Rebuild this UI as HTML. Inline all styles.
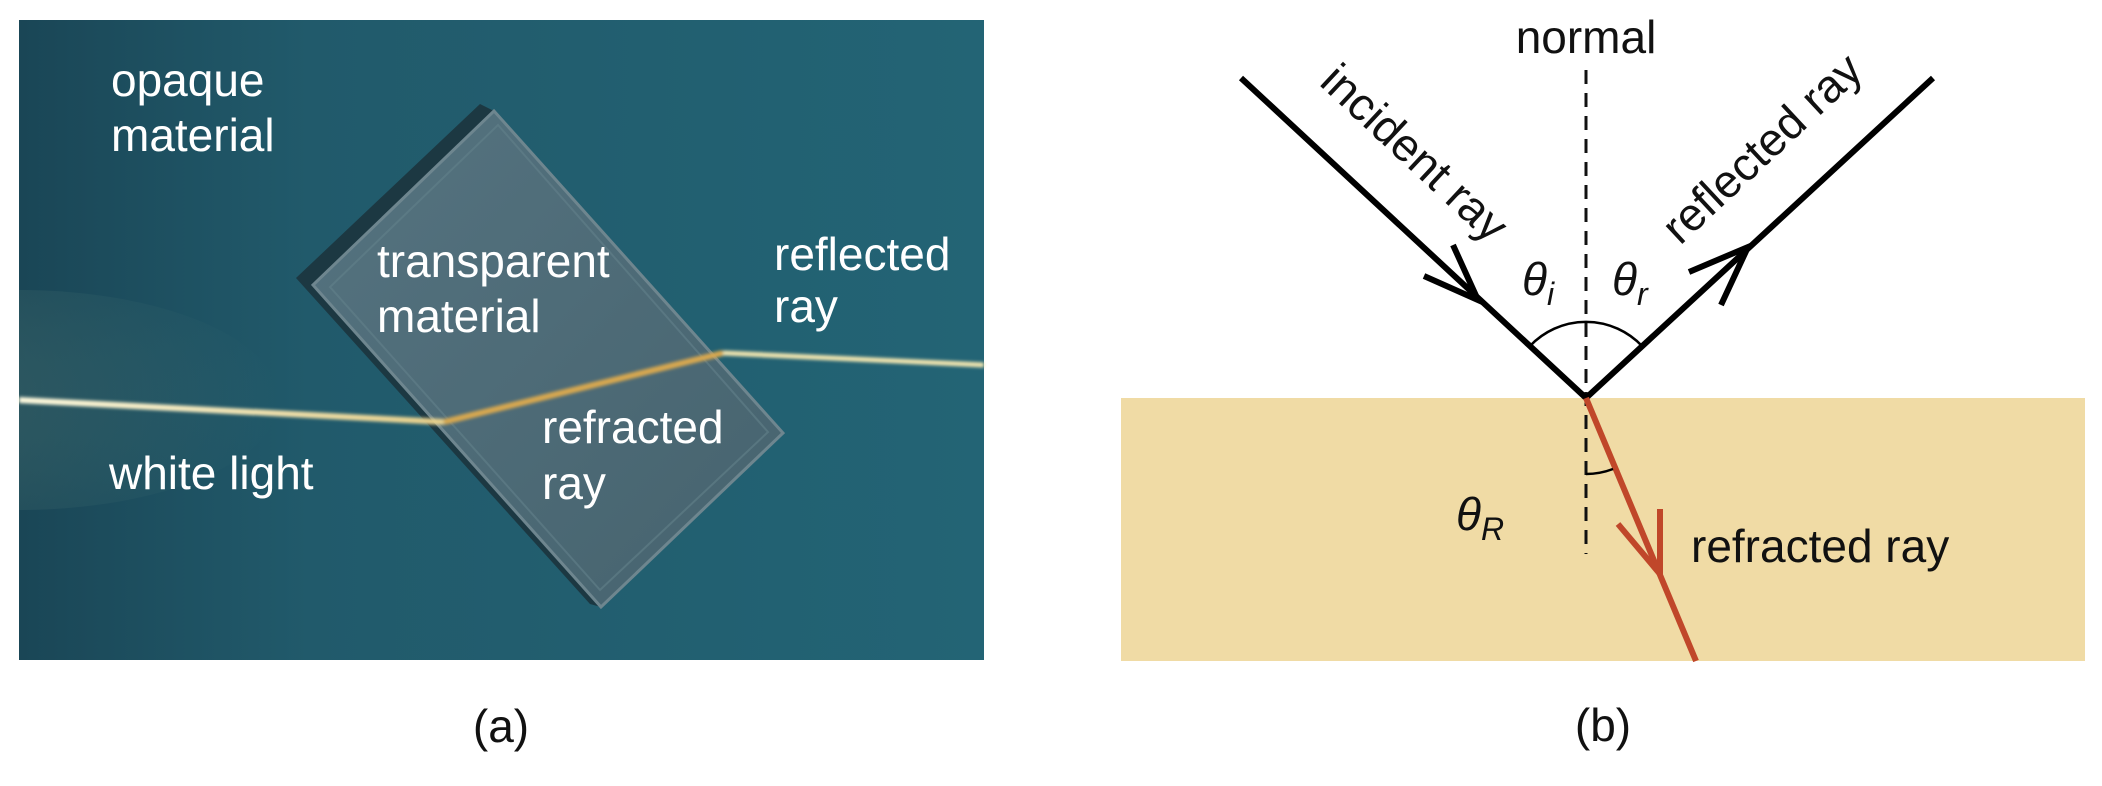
<!DOCTYPE html>
<html><head><meta charset="utf-8"><style>
html,body{margin:0;padding:0;background:#fff;}
svg{display:block;}
text{font-family:"Liberation Sans",sans-serif;}
</style></head><body>
<svg width="2102" height="786" viewBox="0 0 2102 786" xmlns="http://www.w3.org/2000/svg">
<defs>
<linearGradient id="bg" x1="0" y1="0" x2="1" y2="0">
<stop offset="0" stop-color="#1a4656"/><stop offset="0.3" stop-color="#215a6b"/><stop offset="1" stop-color="#236475"/>
</linearGradient>
<linearGradient id="slab" x1="0" y1="0" x2="1" y2="1">
<stop offset="0" stop-color="#557380"/><stop offset="1" stop-color="#46636e"/>
</linearGradient>
<linearGradient id="beam" x1="0" y1="0" x2="1" y2="0">
<stop offset="0" stop-color="#fffbe0"/><stop offset="1" stop-color="#e8d08a"/>
</linearGradient>
<radialGradient id="glow" cx="0" cy="0.5" r="1">
<stop offset="0" stop-color="#8fb59a" stop-opacity="0.3"/><stop offset="1" stop-color="#8fb59a" stop-opacity="0"/>
</radialGradient>
<clipPath id="photo"><rect x="19" y="20" width="965" height="640"/></clipPath>
<filter id="blur"><feGaussianBlur stdDeviation="1.5"/></filter>
</defs>
<rect x="19" y="20" width="965" height="640" fill="url(#bg)"/>
<ellipse cx="19" cy="400" rx="260" ry="110" fill="url(#glow)" clip-path="url(#photo)"/>
<polygon points="480,104 296,278 590,604 601,607 313,285 494,111" fill="#1c3842"/>
<polygon points="494,111 313,285 601,607 783,433" fill="url(#slab)" stroke="#6e868f" stroke-width="3"/>
<polygon points="498,125 330,287 600,590 768,432" fill="none" stroke="#62808b" stroke-width="2" opacity="0.6"/>
<g filter="url(#blur)">
<polyline points="19,400 444,422" fill="none" stroke="url(#beam)" stroke-width="6"/>
<polyline points="444,422 723,353" fill="none" stroke="#d8a850" stroke-width="6"/>
<polyline points="723,353 984,365" fill="none" stroke="#f2e6b0" stroke-width="5"/>
</g>
<g fill="#fff" font-size="46">
<text x="111" y="96">opaque</text>
<text x="111" y="151">material</text>
<text x="377" y="277">transparent</text>
<text x="377" y="332">material</text>
<text x="774" y="270">reflected</text>
<text x="774" y="322">ray</text>
<text x="542" y="443">refracted</text>
<text x="542" y="499">ray</text>
<text x="109" y="489">white light</text>
</g>
<text x="501" y="742" font-size="46" text-anchor="middle" fill="#111">(a)</text>

<rect x="1121" y="398" width="964" height="263" fill="#f0dba5"/>
<line x1="1586" y1="70" x2="1586" y2="554" stroke="#111" stroke-width="3" stroke-dasharray="14,9"/>
<polyline points="1241,78 1586,398 1933,78" fill="none" stroke="#000" stroke-width="6"/>
<polyline points="1424,276 1478,300 1453,245" fill="none" stroke="#000" stroke-width="6"/>
<polyline points="1689,272 1748,247 1721,305" fill="none" stroke="#000" stroke-width="6"/>
<path d="M1530,346 A77,77 0 0 1 1642,346" fill="none" stroke="#000" stroke-width="2.5"/>
<line x1="1586" y1="398" x2="1696" y2="661" stroke="#c0472a" stroke-width="6"/>
<polyline points="1618,524 1660,574 1660,509" fill="none" stroke="#c0472a" stroke-width="6"/>
<path d="M1586,474 A76,76 0 0 0 1613,469" fill="none" stroke="#000" stroke-width="2.5"/>
<g fill="#111" font-size="46">
<text x="1586" y="53" text-anchor="middle">normal</text>
<text transform="translate(1318,84) rotate(43)">incident ray</text>
<text transform="translate(1680,246) rotate(-43)">reflected ray</text>
<text x="1691" y="562">refracted ray</text>
<text x="1603" y="741" text-anchor="middle">(b)</text>
<text x="1522" y="295" font-style="italic">θ<tspan font-size="32" dy="10">i</tspan></text>
<text x="1612" y="295" font-style="italic">θ<tspan font-size="32" dy="10">r</tspan></text>
<text x="1456" y="530" font-style="italic">θ<tspan font-size="32" dy="10">R</tspan></text>
</g>
</svg>
</body></html>
